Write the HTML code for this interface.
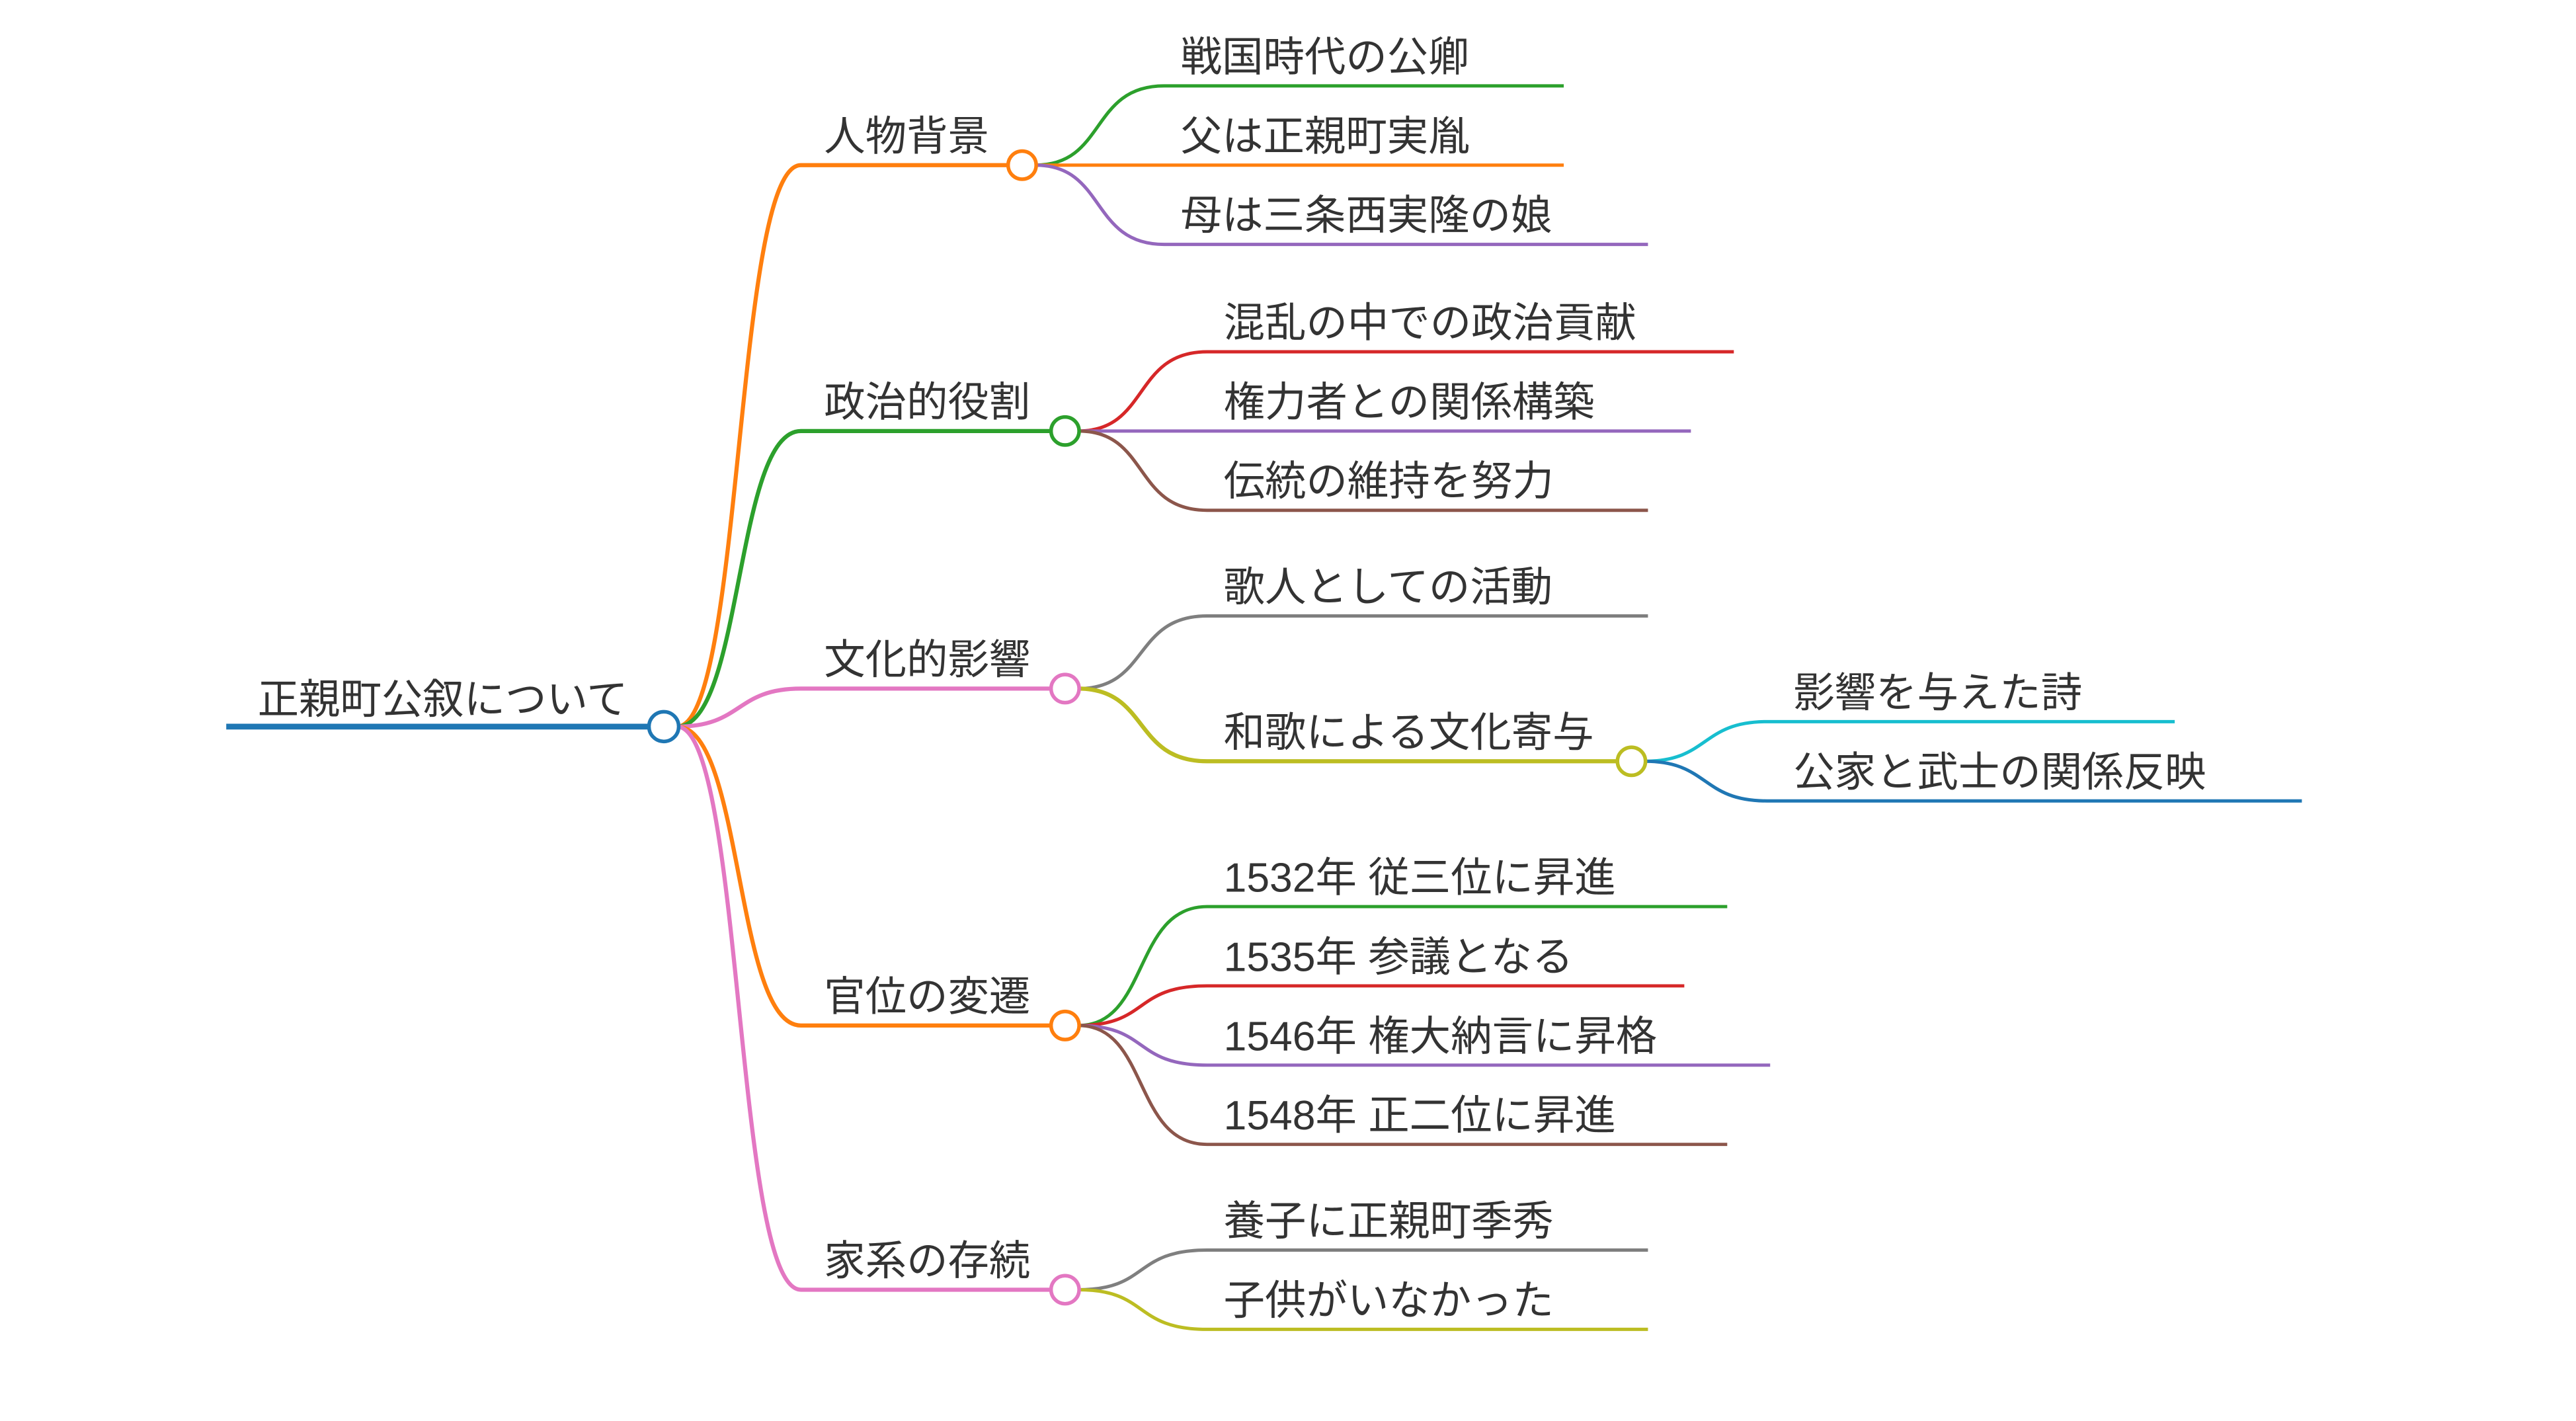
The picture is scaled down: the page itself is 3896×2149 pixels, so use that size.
<!DOCTYPE html>
<html><head><meta charset="utf-8"><style>
html,body{margin:0;padding:0;background:#fff;}
svg{display:block;}
text{font-family:"Liberation Sans","Noto Sans CJK JP",sans-serif;fill:#333;font-size:25px;}
path{fill:none;}
</style></head><body>
<svg width="3896" height="2149" viewBox="0 0 1560 860.5" xmlns="http://www.w3.org/2000/svg">
<path d="M137,440 H393" stroke="#1f77b4" stroke-width="3.5"/>
<text x="156" y="432">正親町公叙について</text>
<path d="M410,440 C450,440 445,100 485,100 H611" stroke="#ff7f0e" stroke-width="2.5"/>
<path d="M410,440 C450,440 445,261 485,261 H636" stroke="#2ca02c" stroke-width="2.5"/>
<path d="M410,440 C450,440 445,417 485,417 H636" stroke="#e377c2" stroke-width="2.5"/>
<path d="M410,440 C450,440 445,621 485,621 H636" stroke="#ff7f0e" stroke-width="2.5"/>
<path d="M410,440 C450,440 445,781 485,781 H636" stroke="#e377c2" stroke-width="2.5"/>
<text x="499" y="91">人物背景</text>
<text x="499" y="252">政治的役割</text>
<text x="499" y="408">文化的影響</text>
<text x="499" y="612">官位の変遷</text>
<text x="499" y="772">家系の存続</text>
<path d="M627,100 C670,100 660,52 705,52 H947" stroke="#2ca02c" stroke-width="2"/>
<path d="M627,100 H947" stroke="#ff7f0e" stroke-width="2"/>
<path d="M627,100 C670,100 660,148 705,148 H998" stroke="#9467bd" stroke-width="2"/>
<text x="715" y="43">戦国時代の公卿</text>
<text x="715" y="91">父は正親町実胤</text>
<text x="715" y="139">母は三条西実隆の娘</text>
<path d="M653,261 C696,261 686,213 731,213 H1050" stroke="#d62728" stroke-width="2"/>
<path d="M653,261 H1024" stroke="#9467bd" stroke-width="2"/>
<path d="M653,261 C696,261 686,309 731,309 H998" stroke="#8c564b" stroke-width="2"/>
<text x="741" y="204">混乱の中での政治貢献</text>
<text x="741" y="252">権力者との関係構築</text>
<text x="741" y="300">伝統の維持を努力</text>
<path d="M653,417 C696,417 686,373 731,373 H998" stroke="#7f7f7f" stroke-width="2"/>
<path d="M653,417 C696,417 686,461 731,461 H980" stroke="#bcbd22" stroke-width="2.5"/>
<text x="741" y="364">歌人としての活動</text>
<text x="741" y="452">和歌による文化寄与</text>
<path d="M996,461 C1035,461 1030,437 1070,437 H1317" stroke="#17becf" stroke-width="2"/>
<path d="M996,461 C1035,461 1030,485 1070,485 H1394" stroke="#1f77b4" stroke-width="2"/>
<text x="1086" y="428">影響を与えた詩</text>
<text x="1086" y="476">公家と武士の関係反映</text>
<path d="M653,621 C696,621 686,549 731,549 H1046" stroke="#2ca02c" stroke-width="2"/>
<path d="M653,621 C696,621 686,597 731,597 H1020" stroke="#d62728" stroke-width="2"/>
<path d="M653,621 C696,621 686,645 731,645 H1072" stroke="#9467bd" stroke-width="2"/>
<path d="M653,621 C696,621 686,693 731,693 H1046" stroke="#8c564b" stroke-width="2"/>
<text x="741" y="540">1532年 従三位に昇進</text>
<text x="741" y="588">1535年 参議となる</text>
<text x="741" y="636">1546年 権大納言に昇格</text>
<text x="741" y="684">1548年 正二位に昇進</text>
<path d="M653,781 C696,781 686,757 731,757 H998" stroke="#7f7f7f" stroke-width="2"/>
<path d="M653,781 C696,781 686,805 731,805 H998" stroke="#bcbd22" stroke-width="2"/>
<text x="741" y="748">養子に正親町季秀</text>
<text x="741" y="796">子供がいなかった</text>
<g fill="#fff" stroke-width="2.2">
<circle cx="402" cy="440" r="9" stroke="#1f77b4"/>
<circle cx="619" cy="100" r="8.5" stroke="#ff7f0e"/>
<circle cx="645" cy="261" r="8.5" stroke="#2ca02c"/>
<circle cx="645" cy="417" r="8.5" stroke="#e377c2"/>
<circle cx="645" cy="621" r="8.5" stroke="#ff7f0e"/>
<circle cx="645" cy="781" r="8.5" stroke="#e377c2"/>
<circle cx="988" cy="461" r="8.5" stroke="#bcbd22"/>
</g>
</svg>
</body></html>
